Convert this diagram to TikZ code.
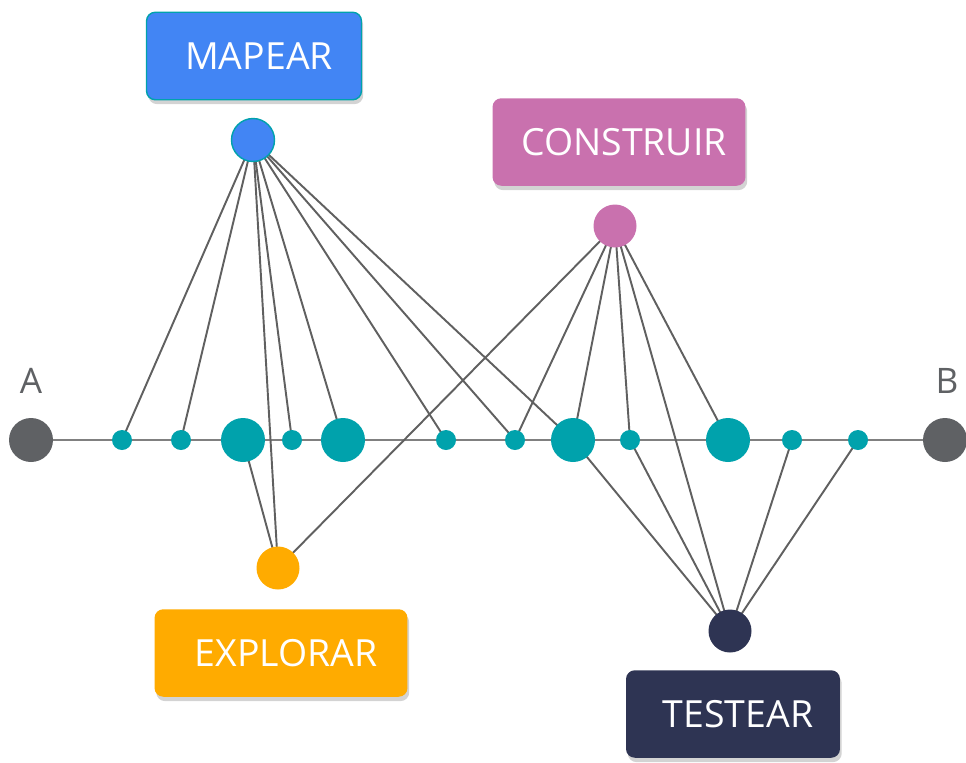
\documentclass[tikz,border=0pt]{standalone}
\usepackage{fontspec}
\setmainfont{Open Sans}
\usetikzlibrary{shadows,backgrounds}

\definecolor{mapblue}{HTML}{4285F4}
\definecolor{buildpink}{HTML}{C971AE}
\definecolor{explorange}{HTML}{FFAB00}
\definecolor{testnavy}{HTML}{2E3453}
\definecolor{dotteal}{HTML}{00A2AC}
\definecolor{endgray}{HTML}{5F6164}
\definecolor{linkgray}{HTML}{606060}

\begin{document}
\begin{tikzpicture}[x=0.02cm,y=-0.02cm,
    dot/.style={circle,fill=dotteal,inner sep=0pt,minimum size=0.4cm},
    bigdot/.style={dot,minimum size=0.88cm},
    enddot/.style={circle,fill=endgray,inner sep=0pt,minimum size=0.88cm},
    hub/.style={circle,inner sep=0pt,minimum size=0.86cm},
    stagebox/.style={rectangle,rounded corners=5pt,text=white,inner sep=0pt,
        minimum height=1.75cm,font=\fontsize{21.3}{26}\selectfont,
        execute at begin node={\hspace*{0.2cm}},
        drop shadow={opacity=0.35,shadow xshift=1pt,shadow yshift=-2.5pt}},
    link/.style={draw=linkgray,line width=1.1pt}]
    \useasboundingbox (0,0) rectangle (966,762);

    % stage boxes
    \node[stagebox,fill=mapblue,draw=dotteal,line width=0.8pt,minimum width=4.3cm] (mapbox) at (254,56) {MAPEAR};
    \node[stagebox,fill=buildpink,minimum width=5.06cm] (buildbox) at (619,142) {CONSTRUIR};
    \node[stagebox,fill=explorange,minimum width=5.06cm] (expbox) at (281,653) {EXPLORAR};
    \node[stagebox,fill=testnavy,minimum width=4.28cm] (testbox) at (733,714) {TESTEAR};

    % hubs
    \node[hub,fill=mapblue,draw=dotteal,line width=0.8pt] (map) at (253,140) {};
    \node[hub,fill=buildpink] (build) at (615,226) {};
    \node[hub,fill=explorange] (exp) at (278,568) {};
    \node[hub,fill=testnavy] (test) at (730,631) {};

    % line A--B
    \node[enddot] (A) at (31,440) {};
    \node[enddot] (B) at (945,440) {};
    \node[text=endgray,font=\fontsize{20}{24}\selectfont] (alabel) at (31,381) {A};
    \node[text=endgray,font=\fontsize{20}{24}\selectfont] (blabel) at (947,381) {B};

    \node[dot] (p1) at (122,440) {};
    \node[dot] (p2) at (181,440) {};
    \node[bigdot] (p3) at (243,440) {};
    \node[dot] (p4) at (292,440) {};
    \node[bigdot] (p5) at (343,440) {};
    \node[dot] (p6) at (446,440) {};
    \node[dot] (p7) at (515,440) {};
    \node[bigdot] (p8) at (573,440) {};
    \node[dot] (p9) at (630,440) {};
    \node[bigdot] (p10) at (728,440) {};
    \node[dot] (p11) at (792,440) {};
    \node[dot] (p12) at (858,440) {};

    \begin{scope}[on background layer]
        \draw[draw=linkgray!80,line width=1pt] (A) -- (B);
        \foreach \p in {p1,p2,exp,p4,p5,p6,p7,p8}
            \draw[link] (map.center) -- (\p.center);
        \foreach \p in {exp,p7,p8,p9,test,p10}
            \draw[link] (build.center) -- (\p.center);
        \draw[link] (exp.center) -- (p3.center);
        \foreach \p in {p8,p9,p11,p12}
            \draw[link] (test.center) -- (\p.center);
    \end{scope}
\end{tikzpicture}
\end{document}
